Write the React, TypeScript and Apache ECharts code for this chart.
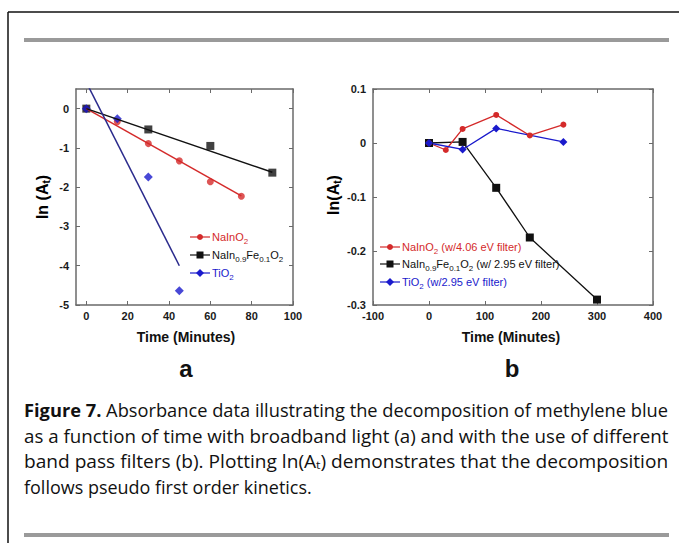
import React, { useEffect, useRef } from "react";
import * as echarts from "echarts";

// ---- Panel a data (broadband light) ----
const aRedTime = [0, 15, 30, 45, 60, 75];
const aRedVal = [0, -0.33, -0.89, -1.33, -1.86, -2.23];
const aBlackTime = [0, 30, 60, 90];
const aBlackVal = [0, -0.53, -0.95, -1.63];
const aBlueTime = [0, 15, 30, 45];
const aBlueVal = [0, -0.26, -1.74, -4.64];
// linear fits
const aRedFitTime = [0, 75];
const aRedFitVal = [0, -2.22];
const aBlackFitTime = [0, 90];
const aBlackFitVal = [0, -1.62];
const aBlueFitTime = [0, 45];
const aBlueFitVal = [0.67, -4.0];

// ---- Panel b data (band pass filters) ----
const bRedTime = [0, 30, 60, 120, 180, 240];
const bRedVal = [0, -0.013, 0.026, 0.052, 0.014, 0.034];
const bBlackTime = [0, 60, 120, 180, 300];
const bBlackVal = [0, 0.002, -0.083, -0.175, -0.29];
const bBlueTime = [0, 60, 120, 240];
const bBlueVal = [0, -0.012, 0.027, 0.002];

// ---- ticks ----
const aXTicks = [0, 20, 40, 60, 80, 100];
const aYTicks = [-5, -4, -3, -2, -1, 0];
const bXTicks = [-100, 0, 100, 200, 300, 400];
const bYTicks = [-0.3, -0.2, -0.1, 0, 0.1];

const RED = "#d42a2a";
const BLACK = "#111111";
const BLUE = "#1a1acc";
const NAVY = "#2a2a8c";
const AXIS = "#6a6a6a";
const FONT = "Liberation Sans";
const CAPFONT = "Open Sans";

const pairs = (xs: number[], ys: number[]) => xs.map((x, i) => [x, ys[i]]);

function axis(kind: "x" | "y", grid: number, pos: string, min: number, max: number, ticks: number[], labels: boolean, fmt?: (v: number) => string) {
  const a: any = {
    type: "value",
    gridIndex: grid,
    position: pos,
    min,
    max,
    axisLine: { show: true, onZero: false, lineStyle: { color: AXIS, width: 1.5 } },
    axisTick: { show: true, inside: true, length: 4, customValues: ticks, lineStyle: { color: AXIS, width: 1 } },
    axisLabel: {
      show: labels,
      customValues: ticks,
      color: "#1a1a1a",
      fontWeight: "bold",
      fontSize: 11,
      fontFamily: FONT,
      margin: kind === "x" ? 5 : 7,
      formatter: fmt,
    },
    splitLine: { show: false },
  };
  return a;
}

const sub = { fontSize: 8, lineHeight: 8, padding: [9, 0, 0, 0] };

function legendRow(x: number, y: number, color: string, marker: string, text: string, rich: any) {
  const els: any[] = [
    { type: "line", shape: { x1: x, y1: y, x2: x + 20, y2: y }, style: { stroke: color, lineWidth: 1.2 } },
  ];
  if (marker === "circle") els.push({ type: "circle", shape: { cx: x + 10, cy: y, r: 3 }, style: { fill: color } });
  if (marker === "rect") els.push({ type: "rect", shape: { x: x + 6.5, y: y - 3.5, width: 7, height: 7 }, style: { fill: color } });
  if (marker === "diamond")
    els.push({ type: "polygon", shape: { points: [[x + 10, y - 4], [x + 14, y], [x + 10, y + 4], [x + 6, y]] }, style: { fill: color } });
  els.push({
    type: "text",
    x: x + 22,
    y: y,
    style: { text, fill: color, font: `11px ${FONT}`, verticalAlign: "middle", align: "left", rich },
  });
  return els;
}

export default function App() {
  const ref = useRef<HTMLDivElement>(null);
  useEffect(() => {
    document.body.style.margin = "0";
    const chart = echarts.init(ref.current!, undefined, { renderer: "svg" });

    // caption sizing: measure natural widths to justify lines like the reference
    const cv = document.createElement("canvas");
    const ctx = cv.getContext("2d")!;
    const meas = (parts: [string, string][]) =>
      parts.reduce((s, [font, t]) => {
        ctx.font = font;
        return s + ctx.measureText(t).width;
      }, 0);
    ctx.font = `17px "${CAPFONT}"`;
    const w4at17 = ctx.measureText("follows pseudo first order kinetics.").width;
    let fs = (17 * 288) / w4at17;
    fs = Math.max(14, Math.min(20, fs));
    const nf = `${fs}px "${CAPFONT}"`;
    const bf = `bold ${fs}px "${CAPFONT}"`;
    const sf = `${fs * 0.65}px "${CAPFONT}"`;
    const w1 = meas([[bf, "Figure 7."], [nf, " Absorbance data illustrating the decomposition of methylene blue"]]);
    const w2 = meas([[nf, "as a function of time with broadband light (a) and with the use of different"]]);
    const w3 = meas([[nf, "band pass filters (b). Plotting ln(A"], [sf, "t"], [nf, ") demonstrates that the decomposition"]]);
    const target = 644;

    const captionRich = {
      b: { fontWeight: "bold", fontSize: fs, fontFamily: CAPFONT, color: "#111" },
      s: { fontSize: fs * 0.65, fontFamily: CAPFONT, color: "#111", padding: [7, 0, 0, 0], lineHeight: fs * 0.65 },
    };
    const capStyle = (text: string) => ({ text, font: `${fs}px "${CAPFONT}"`, fill: "#111", rich: captionRich, verticalAlign: "middle" });
    const ylabRich = {
      m: { fontSize: 16, fontWeight: "bold", fontFamily: FONT, color: "#111", lineHeight: 16 },
      s: { fontSize: 10, fontWeight: "bold", fontFamily: FONT, color: "#111", lineHeight: 10, padding: [8, 0, 0, 0] },
    };
    const legRich = (c: string) => ({ m: { fontSize: 11, fontFamily: FONT, color: c, lineHeight: 12 }, s: { ...sub, color: c, fontFamily: FONT } });

    const option: any = {
      animation: false,
      grid: [
        { left: 76, top: 89, width: 217, height: 216 },
        { left: 373, top: 89, width: 280, height: 216 },
      ],
      xAxis: [
        axis("x", 0, "bottom", -5, 100, aXTicks, true),
        axis("x", 0, "top", -5, 100, aXTicks, false),
        axis("x", 1, "bottom", -100, 400, bXTicks, true),
        axis("x", 1, "top", -100, 400, bXTicks, false),
      ],
      yAxis: [
        axis("y", 0, "left", -5, 0.5, aYTicks, true),
        axis("y", 0, "right", -5, 0.5, aYTicks, false),
        axis("y", 1, "left", -0.3, 0.1, bYTicks, true, (v: number) => (Math.abs(v) < 1e-9 ? "0" : v.toFixed(1))),
        axis("y", 1, "right", -0.3, 0.1, bYTicks, false),
      ],
      series: [
        // panel a fits
        { type: "line", xAxisIndex: 0, yAxisIndex: 0, data: pairs(aRedFitTime, aRedFitVal), showSymbol: false, lineStyle: { color: RED, width: 1.5 }, clip: true },
        { type: "line", xAxisIndex: 0, yAxisIndex: 0, data: pairs(aBlackFitTime, aBlackFitVal), showSymbol: false, lineStyle: { color: BLACK, width: 1.5 }, clip: true },
        { type: "line", xAxisIndex: 0, yAxisIndex: 0, data: pairs(aBlueFitTime, aBlueFitVal), showSymbol: false, lineStyle: { color: NAVY, width: 1.5 }, clip: true },
        // panel a points
        { type: "scatter", xAxisIndex: 0, yAxisIndex: 0, data: pairs(aRedTime, aRedVal), symbol: "circle", symbolSize: 7, itemStyle: { color: RED } },
        { type: "scatter", xAxisIndex: 0, yAxisIndex: 0, data: pairs(aBlackTime, aBlackVal), symbol: "rect", symbolSize: 8, itemStyle: { color: BLACK } },
        { type: "scatter", xAxisIndex: 0, yAxisIndex: 0, data: pairs(aBlueTime, aBlueVal), symbol: "diamond", symbolSize: 9, itemStyle: { color: BLUE } },
        // panel b
        { type: "line", xAxisIndex: 2, yAxisIndex: 2, data: pairs(bBlackTime, bBlackVal), symbol: "rect", symbolSize: 8, lineStyle: { color: BLACK, width: 1.3 }, itemStyle: { color: BLACK } },
        { type: "line", xAxisIndex: 2, yAxisIndex: 2, data: pairs(bRedTime, bRedVal), symbol: "circle", symbolSize: 6, lineStyle: { color: RED, width: 1.3 }, itemStyle: { color: RED } },
        { type: "line", xAxisIndex: 2, yAxisIndex: 2, data: pairs(bBlueTime, bBlueVal), symbol: "diamond", symbolSize: 8, lineStyle: { color: BLUE, width: 1.3 }, itemStyle: { color: BLUE } },
      ],
      graphic: [
        // page frame
        { type: "line", shape: { x1: 8, y1: 12, x2: 679, y2: 12 }, style: { stroke: "#111", lineWidth: 1.5 } },
        { type: "line", shape: { x1: 8, y1: 12, x2: 8, y2: 543 }, style: { stroke: "#111", lineWidth: 1.5 } },
        { type: "rect", shape: { x: 24, y: 38, width: 645, height: 4 }, style: { fill: "#9a9a9a" } },
        { type: "rect", shape: { x: 24, y: 533, width: 645, height: 4 }, style: { fill: "#9a9a9a" } },
        // axis titles
        { type: "text", x: 186, y: 337, style: { text: "Time (Minutes)", font: `bold 14px ${FONT}`, fill: "#111", align: "center", verticalAlign: "middle" } },
        { type: "text", x: 511, y: 337, style: { text: "Time (Minutes)", font: `bold 14px ${FONT}`, fill: "#111", align: "center", verticalAlign: "middle" } },
        { type: "text", x: 186, y: 368, style: { text: "a", font: `bold 24px ${FONT}`, fill: "#111", align: "center", verticalAlign: "middle" } },
        { type: "text", x: 512, y: 368, style: { text: "b", font: `bold 24px ${FONT}`, fill: "#111", align: "center", verticalAlign: "middle" } },
        { type: "text", x: 42, y: 197, rotation: Math.PI / 2, style: { text: "{m|ln (A}{s|t}{m|)}", align: "center", verticalAlign: "middle", rich: ylabRich } },
        { type: "text", x: 333, y: 195, rotation: Math.PI / 2, style: { text: "{m|ln(A}{s|t}{m|)}", align: "center", verticalAlign: "middle", rich: ylabRich } },
        // legend a
        ...legendRow(190, 237, RED, "circle", "{m|NaInO}{s|2}", legRich(RED)),
        ...legendRow(190, 255, BLACK, "rect", "{m|NaIn}{s|0.9}{m|Fe}{s|0.1}{m|O}{s|2}", legRich(BLACK)),
        ...legendRow(190, 273, BLUE, "diamond", "{m|TiO}{s|2}", legRich(BLUE)),
        // legend b
        ...legendRow(380, 247, RED, "circle", "{m|NaInO}{s|2}{m| (w/4.06 eV filter)}", legRich(RED)),
        ...legendRow(380, 264, BLACK, "rect", "{m|NaIn}{s|0.9}{m|Fe}{s|0.1}{m|O}{s|2}{m| (w/ 2.95 eV filter)}", legRich(BLACK)),
        ...legendRow(380, 282, BLUE, "diamond", "{m|TiO}{s|2}{m| (w/2.95 eV filter)}", legRich(BLUE)),
        // caption (justified by horizontal scaling)
        { type: "text", x: 24, y: 410, scaleX: target / w1, style: capStyle("{b|Figure 7.} Absorbance data illustrating the decomposition of methylene blue") },
        { type: "text", x: 24, y: 436, scaleX: target / w2, style: capStyle("as a function of time with broadband light (a) and with the use of different") },
        { type: "text", x: 24, y: 461, scaleX: target / w3, style: capStyle("band pass filters (b). Plotting ln(A{s|t}) demonstrates that the decomposition") },
        { type: "text", x: 24, y: 487, style: capStyle("follows pseudo first order kinetics.") },
      ],
    };
    chart.setOption(option);
    return () => chart.dispose();
  }, []);
  return <div ref={ref} style={{ width: 679, height: 543 }} />;
}
